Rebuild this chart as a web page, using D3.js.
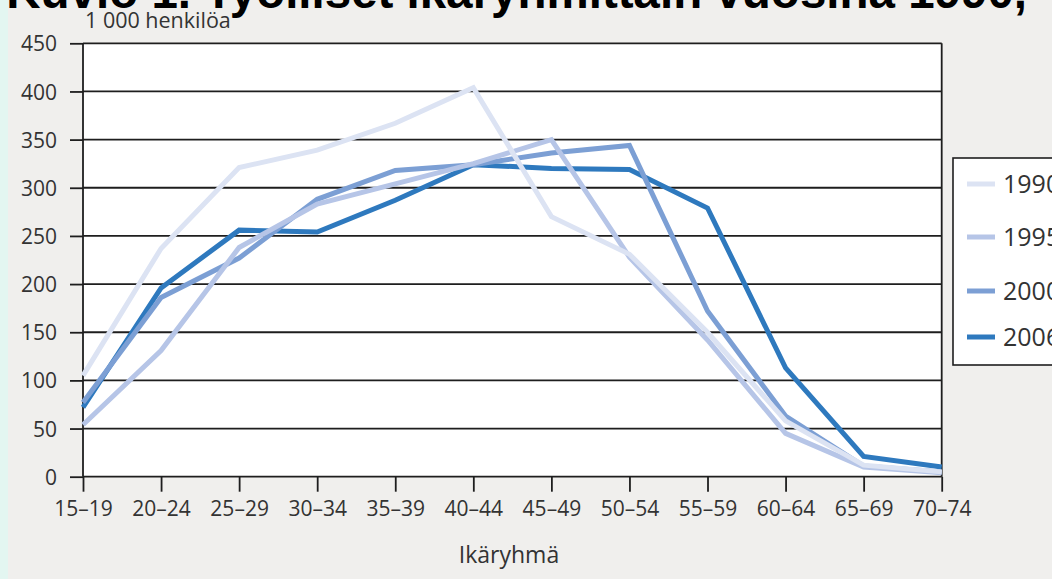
<!DOCTYPE html>
<html>
<head>
<meta charset="utf-8">
<script src="https://cdn.jsdelivr.net/npm/d3@7"></script>
<style>
html,body{margin:0;padding:0;background:#f0efed;overflow:hidden;}
svg{display:block;}
</style>
</head>
<body>
<svg id="chart" width="1052" height="579"></svg>
<script>
const categories = ["15–19","20–24","25–29","30–34","35–39","40–44","45–49","50–54","55–59","60–64","65–69","70–74"];
const years = ["1990","1995","2000","2006"];
const values1990 = [105, 237, 321, 339, 367, 404, 270, 231, 150, 58, 12, 5];
const values1995 = [54, 131, 238, 283, 304, 325, 350, 228, 142, 45, 10, 4];
const values2000 = [77, 186, 227, 288, 318, 324, 336, 344, 172, 63, 11, 5];
const values2006 = [72, 196, 256, 254, 287, 324, 320, 319, 279, 113, 21, 10];
const yTicks = [0, 50, 100, 150, 200, 250, 300, 350, 400, 450];
const colors = ["#dce3f3", "#b6c5e7", "#7c9fd4", "#2e79be"];
const titleText = "Kuvio 1. Työlliset ikäryhmittäin vuosina 1990,";
const yUnitLabel = "1 000 henkilöa";
const xTitle = "Ikäryhmä";

const seriesList = [values1990, values1995, values2000, values2006].map((v, i) => ({name: years[i], values: v, color: colors[i]}));

const svg = d3.select("#chart");
const W = 1052, H = 579;
const mLeft = 83, mRight = 941.7, mTop = 43.3, mBottom = 476.7;
const textColor = "#333333";
const font = "'Open Sans', 'DejaVu Sans', sans-serif";

// left mint strip
svg.append("rect").attr("x", 0).attr("y", 0).attr("width", 8).attr("height", H).attr("fill", "#e3f6f1");

const x = d3.scalePoint().domain(categories).range([mLeft, mRight]).padding(0);
const y = d3.scaleLinear().domain([0, 450]).range([mBottom, mTop]);

// plot background
svg.append("rect").attr("x", mLeft).attr("y", mTop).attr("width", mRight - mLeft).attr("height", mBottom - mTop).attr("fill", "#ffffff");

// title (clipped at top)
const title = svg.append("text")
  .attr("x", 1027).attr("y", 8)
  .attr("text-anchor", "end")
  .attr("font-family", "'Liberation Sans', Arial, sans-serif")
  .attr("font-weight", "bold")
  .attr("font-size", 47)
  .attr("fill", "#000")
  .text(titleText);
const tl = title.node().getComputedTextLength();
if (tl > 0) title.attr("font-size", 47 * 1021 / tl);

// unit label
svg.append("text").attr("x", 85).attr("y", 28)
  .attr("font-family", font).attr("font-size", 21.5).attr("fill", textColor)
  .text(yUnitLabel);

// y axis ticks and labels
const yAxis = d3.axisLeft(y).tickValues(yTicks).tickSize(13).tickPadding(13).tickFormat(d3.format("d"));
const gy = svg.append("g").attr("transform", `translate(${mLeft},0)`).call(yAxis);
gy.select(".domain").remove();
gy.selectAll(".tick line").attr("stroke", "#1e1e1e").attr("stroke-width", 1.8);
gy.selectAll(".tick text").attr("font-family", font).attr("font-size", 21).attr("fill", textColor).attr("dy", "0.36em");

// gridlines
svg.append("g").selectAll("line").data(yTicks).join("line")
  .attr("x1", mLeft).attr("x2", mRight)
  .attr("y1", d => y(d)).attr("y2", d => y(d))
  .attr("stroke", "#1e1e1e").attr("stroke-width", 1.8);

// x axis
const xAxis = d3.axisBottom(x).tickSize(15).tickPadding(9);
const gx = svg.append("g").attr("transform", `translate(0,${mBottom})`).call(xAxis);
gx.select(".domain").remove();
gx.selectAll(".tick line").attr("stroke", "#1e1e1e").attr("stroke-width", 1.8);
gx.selectAll(".tick text").attr("font-family", font).attr("font-size", 21).attr("fill", textColor);

// vertical frame lines
svg.append("line").attr("x1", mLeft).attr("x2", mLeft).attr("y1", mTop).attr("y2", mBottom)
  .attr("stroke", "#1e1e1e").attr("stroke-width", 1.8);
svg.append("line").attr("x1", mRight).attr("x2", mRight).attr("y1", mTop).attr("y2", mBottom)
  .attr("stroke", "#1e1e1e").attr("stroke-width", 1.8);

// x title
svg.append("text").attr("x", 509).attr("y", 563).attr("text-anchor", "middle")
  .attr("font-family", font).attr("font-size", 23).attr("fill", textColor)
  .text(xTitle);

// lines (draw 2006 first so lighter ones on top)
const line = d3.line().x((d, i) => x(categories[i])).y(d => y(d));
svg.append("g").selectAll("path").data(seriesList.slice().reverse()).join("path")
  .attr("d", d => line(d.values))
  .attr("fill", "none")
  .attr("stroke", d => d.color)
  .attr("stroke-width", 5)
  .attr("stroke-linejoin", "miter");

// legend
const lg = svg.append("g");
lg.append("rect").attr("x", 953).attr("y", 158).attr("width", 130).attr("height", 207)
  .attr("fill", "#ffffff").attr("stroke", "#1e1e1e").attr("stroke-width", 1.6);
const legendY = [184, 237, 291, 337];
seriesList.forEach((s, i) => {
  lg.append("line").attr("x1", 967).attr("x2", 995).attr("y1", legendY[i]).attr("y2", legendY[i])
    .attr("stroke", s.color).attr("stroke-width", 5);
  lg.append("text").attr("x", 1003).attr("y", legendY[i]).attr("dy", "0.36em")
    .attr("font-family", font).attr("font-size", 25).attr("fill", textColor)
    .text(s.name);
});
</script>
</body>
</html>
